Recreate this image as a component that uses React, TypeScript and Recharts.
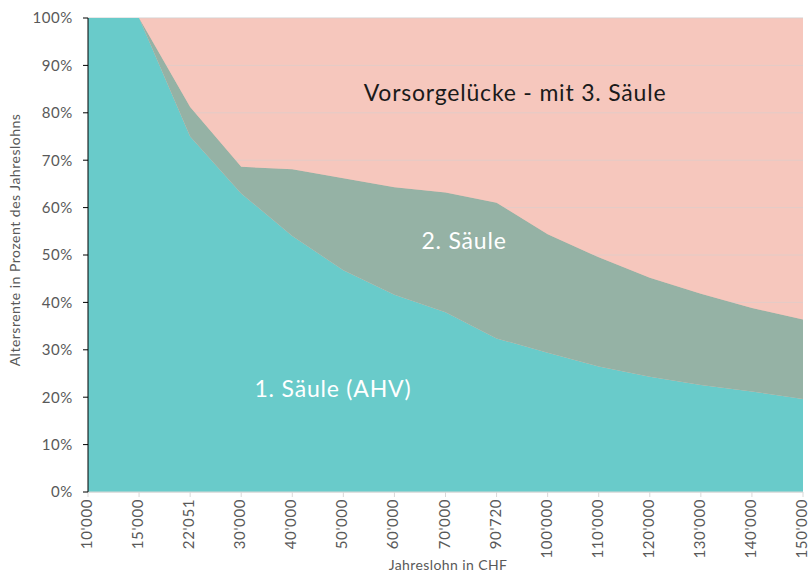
import React from "react";
import { AreaChart, Area, XAxis, YAxis, CartesianGrid, Label } from "recharts";

const categories = ["10'000", "15'000", "22'051", "30'000", "40'000", "50'000", "60'000", "70'000", "90'720", "100'000", "110'000", "120'000", "130'000", "140'000", "150'000"];
const saeule1 = [100, 100, 75.0, 63.0, 54.0, 46.8, 41.6, 37.9, 32.4, 29.4, 26.5, 24.3, 22.6, 21.2, 19.6];
const saeule2 = [0, 0, 6.2, 5.6, 14.1, 19.4, 22.7, 25.3, 28.6, 25.0, 23.0, 20.9, 19.2, 17.6, 16.8];
const luecke = [0, 0, 18.8, 31.4, 31.9, 33.8, 35.7, 36.8, 39.0, 45.6, 50.5, 54.8, 58.2, 61.2, 63.6];
const yTicks = [0, 10, 20, 30, 40, 50, 60, 70, 80, 90, 100];

const data = categories.map((c, i) => ({ cat: c, s1: saeule1[i], s2: saeule2[i], s3: luecke[i] }));

const FONT = "Lato, 'Open Sans', sans-serif";
const TEAL = "#69CBCA";
const GREEN = "#95B2A5";
const PINK = "#F6C7BD";

const XTick = (props: any) => {
  const { x, y, payload } = props;
  return (
    <text x={x} y={y} transform={`rotate(-90, ${x}, ${y})`} dy={4} textAnchor="end" fill="#595959" fontSize={15} letterSpacing={0.6} fontFamily={FONT}>
      {payload.value}
    </text>
  );
};

export default function App() {
  return (
    <div style={{ position: "absolute", left: 0, top: 0, width: 809, height: 573, background: "#fff", fontFamily: FONT }}>
      <AreaChart width={809} height={573} data={data} margin={{ top: 18, right: 6, bottom: 0, left: 0 }}>
        <CartesianGrid vertical={false} fill={PINK} stroke="#D0D0D0" strokeWidth={1} />
        <XAxis
          dataKey="cat"
          interval={0}
          tickSize={5}
          tick={<XTick />}
          stroke="#D9D9D9"
          height={81}
        >
          <Label
            content={() => (
              <text x={448} y={570} textAnchor="middle" fill="#595959" fontSize={14} letterSpacing={0.4} fontFamily={FONT}>
                Jahreslohn in CHF
              </text>
            )}
          />
        </XAxis>
        <YAxis
          domain={[0, 100]}
          ticks={yTicks}
          tickFormatter={(v: number) => `${v}%`}
          width={88}
          tickSize={5}
          tickMargin={10}
          stroke="#000"
          tick={{ fill: "#595959", fontSize: 15, fontFamily: FONT, letterSpacing: 0.6 }}
          allowDataOverflow
        >
          <Label
            content={() => (
              <text x={20} y={240} transform="rotate(-90, 20, 240)" textAnchor="middle" fill="#595959" fontSize={14} letterSpacing={0.5} fontFamily={FONT}>
                Altersrente in Prozent des Jahreslohns
              </text>
            )}
          />
        </YAxis>
        <Area type="linear" dataKey="s1" stackId="1" stroke="none" fill={TEAL} fillOpacity={1} isAnimationActive={false} />
        <Area type="linear" dataKey="s2" stackId="1" stroke="none" fill={GREEN} fillOpacity={1} isAnimationActive={false} />
        <Area type="linear" dataKey="s3" stackId="1" stroke="none" fill={PINK} fillOpacity={0.5} isAnimationActive={false} />
      </AreaChart>
      <svg width={809} height={573} style={{ position: "absolute", left: 0, top: 0, pointerEvents: "none" }}>
        <text x={515} y={101} textAnchor="middle" fill="#1a1a1a" fontSize={23} letterSpacing={0.8} fontFamily={FONT}>Vorsorgelücke - mit 3. Säule</text>
        <text x={464} y={249} textAnchor="middle" fill="#ffffff" fontSize={23} letterSpacing={0.8} fontFamily={FONT}>2. Säule</text>
        <text x={333} y={397} textAnchor="middle" fill="#ffffff" fontSize={23} letterSpacing={0.8} fontFamily={FONT}>1. Säule (AHV)</text>
      </svg>
    </div>
  );
}
